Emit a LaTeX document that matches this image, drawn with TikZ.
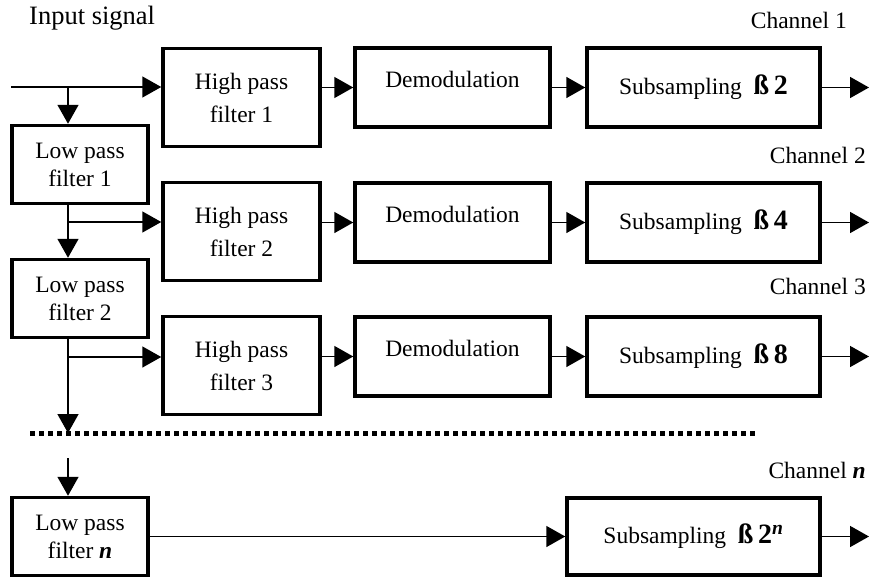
\documentclass[tikz,border=0pt]{standalone}
\usepackage{fontspec}
\setmainfont{Liberation Serif}
\usetikzlibrary{arrows.meta}
\tikzset{
  blk/.style={draw, line width=3.5pt, align=center, inner sep=0pt,
    font=\fontsize{23.5}{33}\selectfont},
  lpf/.style={blk, minimum width=136pt, minimum height=78pt,
    font=\fontsize{23.5}{28}\selectfont},
  hpf/.style={blk, minimum width=157pt, minimum height=98pt},
  dem/.style={blk, minimum width=195pt, minimum height=79pt, text depth=16pt},
  sub/.style={blk, minimum width=233pt, minimum height=79pt},
  txt/.style={inner sep=0pt, font=\fontsize{23.5}{28}\selectfont},
  sig/.style={line width=1.6pt, -{Triangle[length=19pt,width=21pt]}},
}
\newcommand{\dn}[1]{\textbf{\fontsize{28}{28}\selectfont ß\,#1}}
\begin{document}
\begin{tikzpicture}[x=1pt,y=-1pt]
  \useasboundingbox (0,0) rectangle (870,578);
  % labels
  \node[txt, anchor=west, font=\fontsize{26.5}{28}\selectfont] (insig) at (29,18) {Input signal};
  \node[txt, anchor=east] (ch1) at (847,20) {Channel 1};
  \node[txt, anchor=east] (ch2) at (866,155) {Channel 2};
  \node[txt, anchor=east] (ch3) at (866,286) {Channel 3};
  \node[txt, anchor=east] (chn) at (866,470) {Channel \textbf{\textit{n}}};
  % blocks
  \node[lpf] (lp1) at (80,164.5) {Low pass\\filter 1};
  \node[lpf] (lp2) at (80,298.5) {Low pass\\filter 2};
  \node[lpf] (lpn) at (80,536.5) {Low pass\\filter \textbf{\textit{n}}};
  \node[hpf] (hp1) at (241.5,97.5) {High pass\\filter 1};
  \node[hpf] (hp2) at (241.5,231.5) {High pass\\filter 2};
  \node[hpf] (hp3) at (241.5,365.5) {High pass\\filter 3};
  \node[dem] (dm1) at (452.5,87.5) {Demodulation};
  \node[dem] (dm2) at (452.5,222.5) {Demodulation};
  \node[dem] (dm3) at (452.5,356.5) {Demodulation};
  \node[sub] (ss1) at (703.5,87.5) {Subsampling\ \ \dn{2}};
  \node[sub] (ss2) at (703.5,222.5) {Subsampling\ \ \dn{4}};
  \node[sub] (ss3) at (703.5,356.5) {Subsampling\ \ \dn{8}};
  \node[sub, minimum width=253pt, minimum height=77pt] (ssn) at (693.5,536.5)
    {Subsampling\ \ \dn{2\textsuperscript{\textit{n}}}};
  % taps on the signal line
  \coordinate (src) at (11,87);
  \coordinate (t0) at (68,87);
  \coordinate (t1) at (68,222);
  \coordinate (t2) at (68,357);
  \coordinate (t3) at (68,458);
  \coordinate (dotl) at (30,433);
  \coordinate (dotr) at (757,433);
  \coordinate (out) at (869,0);
  \draw[sig] (src) -- (src -| hp1.west);
  \draw[sig] (t0) -- (t0 |- lp1.north);
  \draw[sig] (lp1.south -| t0) -- (lp2.north -| t0);
  \draw[sig] (t1) -- (t1 -| hp2.west);
  \draw[sig] (t2) -- (t2 -| hp3.west);
  \draw[sig] (lp2.south -| t0) -- (dotl -| t0);
  \draw[line width=5pt, dash pattern=on 5pt off 4pt] (dotl) -- (dotr);
  \draw[sig] (t3) -- (t3 |- lpn.north);
  \draw[sig] (lpn) -- (ssn);
  \draw[sig] (ssn) -- (ssn.east -| out);
  \foreach \i in {1,2,3} {
    \draw[sig] (dm\i.west -| hp\i.east) -- (dm\i.west);
    \draw[sig] (dm\i) -- (ss\i);
    \draw[sig] (ss\i) -- (ss\i.east -| out);
  }
\end{tikzpicture}
\end{document}
